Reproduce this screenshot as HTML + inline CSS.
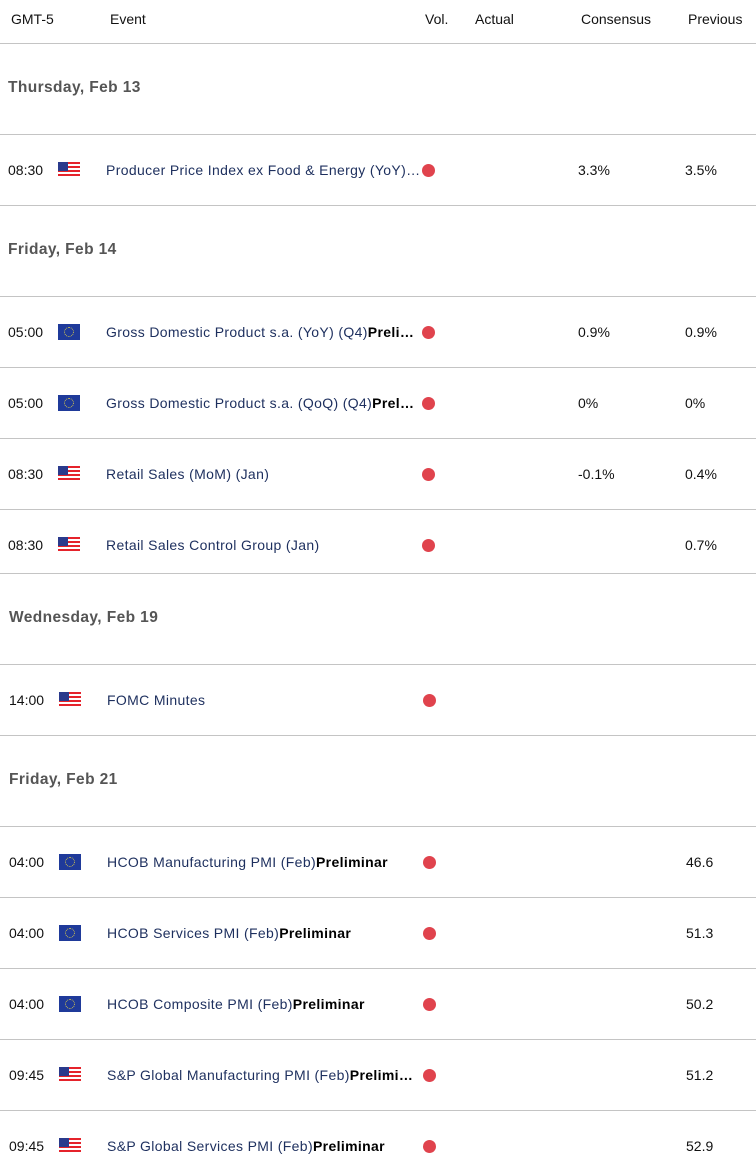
<!DOCTYPE html>
<html><head><meta charset="utf-8"><style>
body{margin:0;width:756px;height:1160px;background:#fff;position:relative;overflow:hidden;font-family:"Liberation Sans",sans-serif;font-size:14px;color:#111}
.a{position:absolute;white-space:nowrap;line-height:20px}
.l{position:absolute;left:0;width:756px;height:1px;background:#c4c4c4}
.d{font-weight:bold;color:#555;font-size:15.5px;letter-spacing:0.4px}
.e{color:#1d2f5e;letter-spacing:0.35px}
.dot{position:absolute;width:13px;height:13px;border-radius:50%;background:#e0434d}
.us{position:absolute;width:22px;height:16px;background:repeating-linear-gradient(#e5232b 0 2px,#fff 2px 4px)}
.us:after{content:"";position:absolute;left:0;top:0;width:10px;height:9px;background:#2a3a8c}
.eu{position:absolute;width:22px;height:16px;background:#1f3a9a}
.eu:after{content:"";position:absolute;left:6px;top:3px;width:8px;height:8px;border:1px dotted #d8c84a;border-radius:50%}
</style></head><body>
<div class="a" style="left:11px;top:9px">GMT-5</div>
<div class="a" style="left:110px;top:9px">Event</div>
<div class="a" style="left:425px;top:9px">Vol.</div>
<div class="a" style="left:475px;top:9px">Actual</div>
<div class="a" style="left:581px;top:9px">Consensus</div>
<div class="a" style="left:688px;top:9px">Previous</div>
<div class="l" style="top:43px"></div>
<div class="a d" style="left:8px;top:78px">Thursday, Feb 13</div>
<div class="l" style="top:134px"></div>
<div class="l" style="top:205px"></div>
<div class="a d" style="left:8px;top:240px">Friday, Feb 14</div>
<div class="l" style="top:296px"></div>
<div class="l" style="top:367px"></div>
<div class="l" style="top:438px"></div>
<div class="l" style="top:509px"></div>
<div class="l" style="top:573px"></div>
<div class="a d" style="left:9px;top:608px">Wednesday, Feb 19</div>
<div class="l" style="top:664px"></div>
<div class="l" style="top:735px"></div>
<div class="a d" style="left:9px;top:770px">Friday, Feb 21</div>
<div class="l" style="top:826px"></div>
<div class="l" style="top:897px"></div>
<div class="l" style="top:968px"></div>
<div class="l" style="top:1039px"></div>
<div class="l" style="top:1110px"></div>

<div class="a" style="left:8px;top:160px">08:30</div><div class="us" style="left:58px;top:162px"></div><div class="a e" style="left:106px;top:160px">Producer Price Index ex Food &amp; Energy (YoY)…</div><div class="dot" style="left:422px;top:164px"></div><div class="a" style="left:578px;top:160px">3.3%</div><div class="a" style="left:685px;top:160px">3.5%</div>

<div class="a" style="left:8px;top:322px">05:00</div><div class="eu" style="left:58px;top:324px"></div><div class="a e" style="left:106px;top:322px">Gross Domestic Product s.a. (YoY) (Q4)<b style="color:#000">Preli…</b></div><div class="dot" style="left:422px;top:326px"></div><div class="a" style="left:578px;top:322px">0.9%</div><div class="a" style="left:685px;top:322px">0.9%</div>

<div class="a" style="left:8px;top:393px">05:00</div><div class="eu" style="left:58px;top:395px"></div><div class="a e" style="left:106px;top:393px">Gross Domestic Product s.a. (QoQ) (Q4)<b style="color:#000">Prel…</b></div><div class="dot" style="left:422px;top:397px"></div><div class="a" style="left:578px;top:393px">0%</div><div class="a" style="left:685px;top:393px">0%</div>

<div class="a" style="left:8px;top:464px">08:30</div><div class="us" style="left:58px;top:466px"></div><div class="a e" style="left:106px;top:464px">Retail Sales (MoM) (Jan)</div><div class="dot" style="left:422px;top:468px"></div><div class="a" style="left:578px;top:464px">-0.1%</div><div class="a" style="left:685px;top:464px">0.4%</div>

<div class="a" style="left:8px;top:535px">08:30</div><div class="us" style="left:58px;top:537px"></div><div class="a e" style="left:106px;top:535px">Retail Sales Control Group (Jan)</div><div class="dot" style="left:422px;top:539px"></div><div class="a" style="left:685px;top:535px">0.7%</div>

<div class="a" style="left:9px;top:690px">14:00</div><div class="us" style="left:59px;top:692px"></div><div class="a e" style="left:107px;top:690px">FOMC Minutes</div><div class="dot" style="left:423px;top:694px"></div>

<div class="a" style="left:9px;top:852px">04:00</div><div class="eu" style="left:59px;top:854px"></div><div class="a e" style="left:107px;top:852px">HCOB Manufacturing PMI (Feb)<b style="color:#000">Preliminar</b></div><div class="dot" style="left:423px;top:856px"></div><div class="a" style="left:686px;top:852px">46.6</div>

<div class="a" style="left:9px;top:923px">04:00</div><div class="eu" style="left:59px;top:925px"></div><div class="a e" style="left:107px;top:923px">HCOB Services PMI (Feb)<b style="color:#000">Preliminar</b></div><div class="dot" style="left:423px;top:927px"></div><div class="a" style="left:686px;top:923px">51.3</div>

<div class="a" style="left:9px;top:994px">04:00</div><div class="eu" style="left:59px;top:996px"></div><div class="a e" style="left:107px;top:994px">HCOB Composite PMI (Feb)<b style="color:#000">Preliminar</b></div><div class="dot" style="left:423px;top:998px"></div><div class="a" style="left:686px;top:994px">50.2</div>

<div class="a" style="left:9px;top:1065px">09:45</div><div class="us" style="left:59px;top:1067px"></div><div class="a e" style="left:107px;top:1065px">S&amp;P Global Manufacturing PMI (Feb)<b style="color:#000">Prelimi…</b></div><div class="dot" style="left:423px;top:1069px"></div><div class="a" style="left:686px;top:1065px">51.2</div>

<div class="a" style="left:9px;top:1136px">09:45</div><div class="us" style="left:59px;top:1138px"></div><div class="a e" style="left:107px;top:1136px">S&amp;P Global Services PMI (Feb)<b style="color:#000">Preliminar</b></div><div class="dot" style="left:423px;top:1140px"></div><div class="a" style="left:686px;top:1136px">52.9</div>
</body></html>
